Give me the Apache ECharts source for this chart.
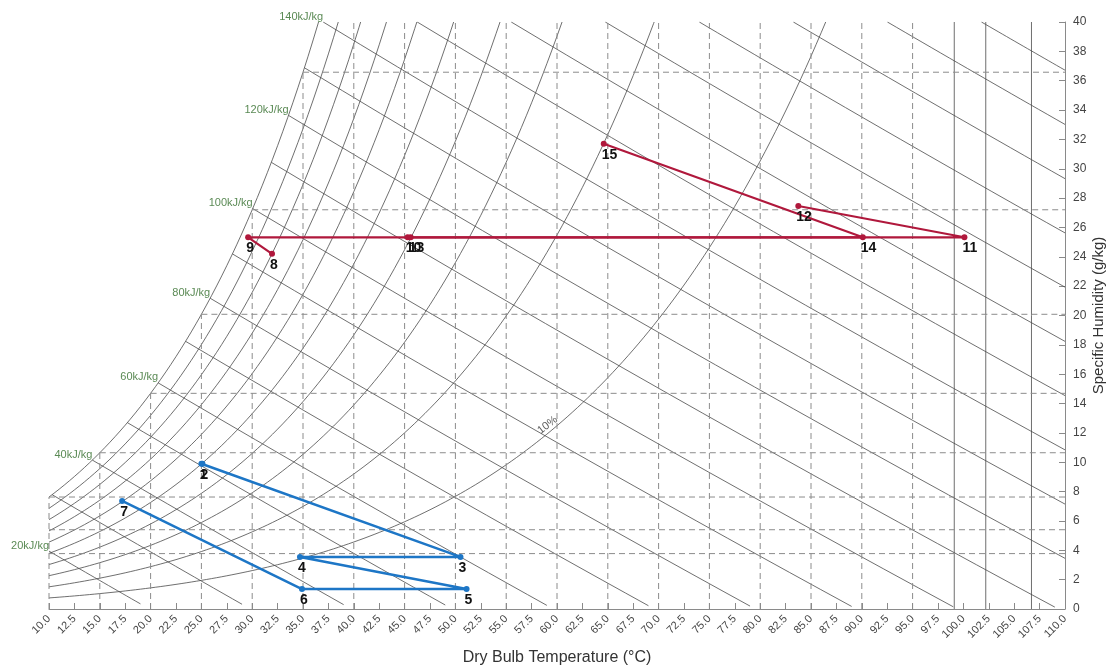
<!DOCTYPE html>
<html>
<head>
<meta http-equiv="Content-Type" content="text/html; charset=utf-8" />
<title>Psychrometric chart</title>
<style type="text/css">
    * { margin: 0; padding: 0 }
    html, body { width: 100%; height: 100%; background: #fff; }
    #chart { width: 1110px; height: 668px; }
</style>
</head>
<body>
<div id="chart"></div>
<script src="https://cdn.jsdelivr.net/npm/echarts@6/dist/echarts.min.js"></script>
<script>
// process states: dry bulb (°C) / specific humidity (g/kg)
const blueNames = ['1', '2', '3', '4', '5', '6', '7'];
const blueT = [25.0, 25.1, 50.5, 34.7, 51.1, 34.9, 17.2];
const blueW = [9.9, 9.9, 3.55, 3.55, 1.36, 1.36, 7.36];

const redNamesA = ['8', '9', '10', '11', '12'];
const redTA = [31.95, 29.6, 45.3, 100.1, 83.75];
const redWA = [24.2, 25.33, 25.33, 25.33, 27.46];

const redNamesB = ['13', '14', '15'];
const redTB = [45.6, 90.1, 64.6];
const redWB = [25.33, 25.33, 31.7];

// chart furniture
const rhLevels = [0.1, 0.2, 0.3, 0.4, 0.5, 0.6, 0.7, 0.8, 0.9, 1.0];
const enthalpyLevels = [20, 30, 40, 50, 60, 70, 80, 90, 100, 110, 120, 130, 140, 150, 160, 170, 180, 190, 200, 210];
const enthalpyLabelLevels = [20, 40, 60, 80, 100, 120, 140];
const dryBulbGrid = [10, 15, 20, 25, 30, 35, 40, 45, 50, 55, 60, 65, 70, 75, 80, 85, 90, 95];
const dewPointGrid = [0, 5, 10, 15, 20, 25, 30, 35];
const rhBreakLines = [99.1, 102.2, 106.7];   // vertical strokes where high-RH curves blow up

const X_MIN = 10, X_MAX = 110, Y_MIN = 0, Y_MAX = 40;
const P_ATM = 101.325;

// saturation pressure, kPa (Hyland-Wexler)
function pws(t) {
    const T = t + 273.15;
    return Math.exp(-5800.2206 / T + 1.3914993 - 0.048640239 * T + 4.1764768e-5 * T * T
        - 1.4452093e-8 * T * T * T + 6.5459673 * Math.log(T)) / 1000;
}
function humidity(t, rh) {
    const p = rh * pws(t);
    return p >= P_ATM ? Infinity : 622 * p / (P_ATM - p);
}
function enthalpyW(t, h) {
    return 1000 * (h - 1.006 * t) / (2501 + 1.86 * t);
}
function bisect(f, a, b) {
    for (let i = 0; i < 60; i++) {
        const m = (a + b) / 2;
        if (f(a) * f(m) <= 0) b = m; else a = m;
    }
    return (a + b) / 2;
}

function rhCurve(rh) {
    const tEnd = humidity(X_MAX, rh) > Y_MAX ? bisect(t => humidity(t, rh) - Y_MAX, X_MIN, X_MAX) : X_MAX;
    const pts = [];
    for (let t = X_MIN; t < tEnd; t += 0.5) pts.push([t, humidity(t, rh)]);
    pts.push([tEnd, Math.min(humidity(tEnd, rh), Y_MAX)]);
    return pts;
}

const upperEdge = t => Math.min(humidity(t, 1), Y_MAX);

function enthalpyStart(h) {
    if (enthalpyW(X_MIN, h) <= upperEdge(X_MIN)) return X_MIN;
    return bisect(t => enthalpyW(t, h) - upperEdge(t), X_MIN, X_MAX);
}
function enthalpyLine(h) {
    const t0 = enthalpyStart(h);
    const t1 = Math.min(h - 1, X_MAX);
    const pts = [];
    for (let i = 0; i <= 20; i++) {
        const t = t0 + (t1 - t0) * i / 20;
        pts.push([t, enthalpyW(t, h)]);
    }
    return pts;
}

const thin = { color: '#4a4a4a', width: 0.8 };
const dashed = { color: '#8c8c8c', width: 1, type: [6, 4] };
const series = [];

rhLevels.forEach(rh => {
    series.push({ type: 'line', data: rhCurve(rh), showSymbol: false, silent: true, lineStyle: thin, z: 1 });
});
enthalpyLevels.forEach(h => {
    series.push({ type: 'line', data: enthalpyLine(h), showSymbol: false, silent: true, lineStyle: thin, z: 1 });
});
rhBreakLines.forEach(t => {
    series.push({ type: 'line', data: [[t, Y_MIN], [t, Y_MAX]], showSymbol: false, silent: true, lineStyle: thin, z: 1 });
});
dryBulbGrid.forEach(t => {
    series.push({ type: 'line', data: [[t, Y_MIN], [t, upperEdge(t)]], showSymbol: false, silent: true, lineStyle: dashed, z: 1 });
});
dewPointGrid.forEach(td => {
    const w = humidity(td, 1);
    series.push({ type: 'line', data: [[Math.max(X_MIN, td), w], [X_MAX, w]], showSymbol: false, silent: true, lineStyle: dashed, z: 1 });
});

// enthalpy labels at the upper end of their lines
series.push({
    type: 'scatter', symbolSize: 0, silent: true, z: 3,
    data: enthalpyLabelLevels.map(h => {
        const t = enthalpyStart(h);
        return { value: [t, enthalpyW(t, h)], name: h + 'kJ/kg' };
    }),
    label: {
        show: true, formatter: p => p.name, position: [0, 0], align: 'right', verticalAlign: 'bottom',
        color: '#2f6b28', fontSize: 11, fontFamily: 'Liberation Sans'
    }
});

// 10% label on its curve
series.push({
    type: 'scatter', symbolSize: 0, silent: true, z: 3,
    data: [{ value: [59.8, humidity(59.8, 0.1)], name: '10%' }],
    label: {
        show: true, formatter: p => p.name, position: [-4, 2], align: 'center', verticalAlign: 'bottom',
        rotate: 38, color: '#333', fontSize: 11, fontFamily: 'Liberation Sans'
    }
});

function processSeries(ts, ws, names, color, width) {
    return {
        type: 'line', z: 5,
        data: ts.map((t, i) => [t, ws[i]]),
        symbol: 'circle', symbolSize: 6, showAllSymbol: true,
        itemStyle: { color: color },
        lineStyle: { color: color, width: width },
        label: {
            show: true, formatter: p => names[p.dataIndex], position: [1, 7],
            align: 'left', verticalAlign: 'top',
            color: '#111', fontSize: 14, fontWeight: 'bold', fontFamily: 'Liberation Sans'
        }
    };
}
series.push(processSeries(blueT, blueW, blueNames, '#1d76c6', 2.5));
series.push(processSeries(redTA, redWA, redNamesA, '#b0183c', 2.2));
series.push(processSeries(redTB, redWB, redNamesB, '#b0183c', 2.2));

const chart = echarts.init(document.getElementById('chart'));
chart.setOption({
    animation: false,
    backgroundColor: '#fff',
    grid: { left: 49, right: 45, top: 22, bottom: 59, containLabel: false, outerBoundsMode: 'none' },
    xAxis: {
        type: 'value', min: X_MIN, max: X_MAX, interval: 2.5,
        name: 'Dry Bulb Temperature (°C)', nameLocation: 'middle', nameGap: 41, nameMoveOverlap: false,
        nameTextStyle: { fontSize: 16, color: '#333', fontFamily: 'Liberation Sans' },
        axisLine: { lineStyle: { color: '#8a8a8a' } },
        axisTick: { inside: true, length: 6, lineStyle: { color: '#8a8a8a' } },
        axisLabel: {
            rotate: 45, margin: 8, fontSize: 11, color: '#444', fontFamily: 'Liberation Sans',
            formatter: v => v.toFixed(1), showMinLabel: true, showMaxLabel: true
        },
        splitLine: { show: false }
    },
    yAxis: {
        type: 'value', position: 'right', min: Y_MIN, max: Y_MAX, interval: 2,
        name: 'Specific Humidity (g/kg)', nameLocation: 'middle', nameGap: 26, nameRotate: 90,
        nameMoveOverlap: false,
        nameTextStyle: { fontSize: 15, color: '#333', fontFamily: 'Liberation Sans' },
        axisLine: { show: true, lineStyle: { color: '#8a8a8a' } },
        axisTick: { show: true, inside: true, length: 6, lineStyle: { color: '#8a8a8a' } },
        axisLabel: { margin: 8, fontSize: 12, color: '#444', fontFamily: 'Liberation Sans' },
        splitLine: { show: false }
    },
    series: series
});
</script>
</body>
</html>
